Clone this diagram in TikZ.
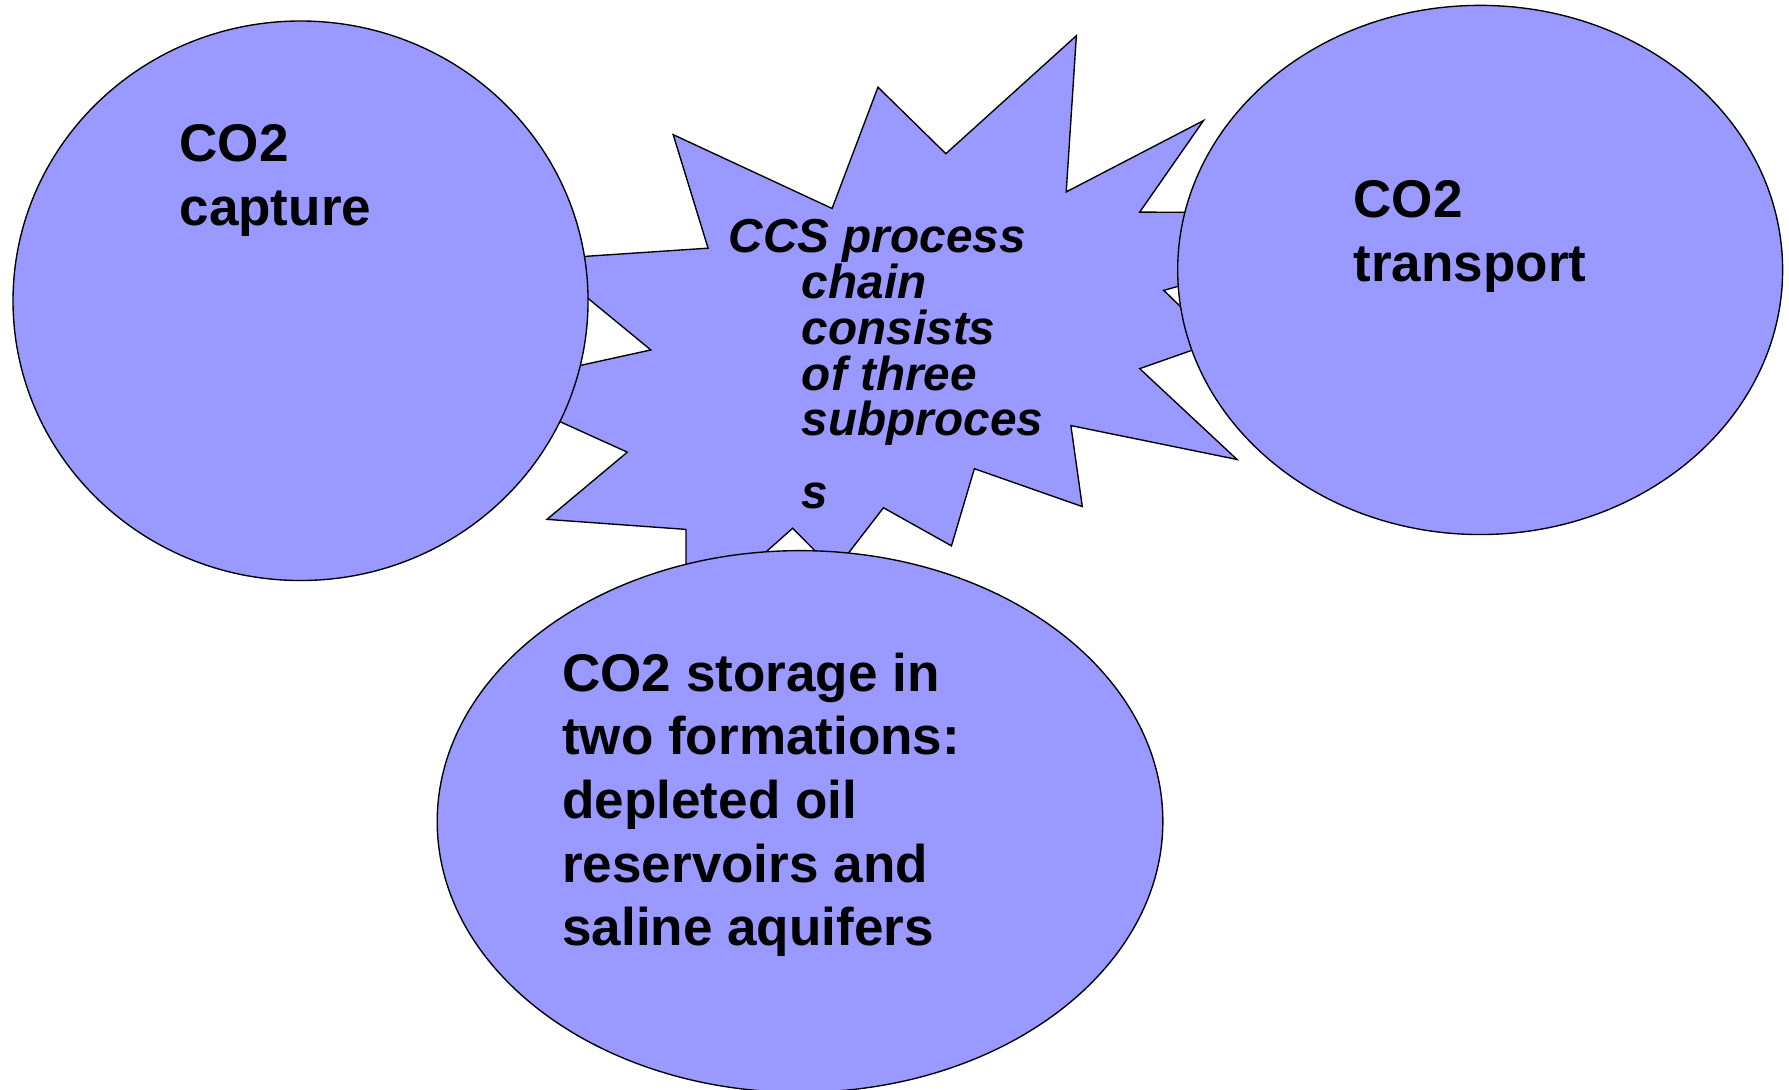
\documentclass[tikz,border=0pt]{standalone}
\usepackage{fontspec}
\setmainfont{Liberation Sans}
\usetikzlibrary{shapes.geometric}
\definecolor{blobfill}{HTML}{9999FF}
\tikzset{
  blob/.style={ellipse, draw=black, line width=0.6pt, fill=blobfill, inner sep=0pt},
  bigtext/.style={anchor=north west, inner sep=0pt, align=left,
    font=\fontsize{23.25pt}{27.9pt}\selectfont\bfseries},
  ccstext/.style={anchor=north west, inner sep=0pt, align=left,
    font=\fontsize{20.9pt}{20.1pt}\selectfont\bfseries\itshape}
}
\begin{document}
\begin{tikzpicture}[x=0.5pt, y=-0.5pt]
\useasboundingbox (0,0) rectangle (1568,955);
\fill[white] (0,0) rectangle (1568,955);
% star burst
\draw[line width=0.6pt, fill=blobfill, line join=miter]
  (590,118) -- (729.3,182.7) -- (769.5,76.4) -- (829,134.7) -- (943.4,31.3)
  -- (934.5,168.2) -- (1054.8,105.7) -- (998.9,185.9) -- (1257,187)
  -- (1020,254.5) -- (1066.3,299.4) -- (998.9,323.1) -- (1084.2,402.7)
  -- (938.6,373) -- (948.6,444) -- (854,410.8) -- (833.9,478.4)
  -- (774.3,445) -- (731.7,500.2) -- (694.7,463) -- (601.3,546)
  -- (601.3,464) -- (479.4,455.2) -- (549.8,396.3) -- (423.3,339)
  -- (570.4,306.7) -- (473.8,227.3) -- (620.6,217.5) -- cycle;
% ellipses
\node[blob, minimum width=252pt, minimum height=245.2pt] (capture) at (263.4,263.6) {};
\node[blob, minimum width=265.1pt, minimum height=231.9pt] (transport) at (1297.3,236.6) {};
\node[blob, minimum width=318pt, minimum height=237.4pt] (storage) at (701.2,720) {};
% texts
\node[bigtext] (capturetext) at (157,108.6) {CO2\\capture};
\node[bigtext] (transporttext) at (1186,157.7) {CO2\\transport};
\node[bigtext] (storagetext) at (492.4,571.6) {CO2 storage in\\two formations:\\depleted oil\\reservoirs and\\saline aquifers};
\node[ccstext] (ccstext) at (638.5,191.7) {CCS process\\\hspace*{32pt}chain\\\hspace*{32pt}consists\\\hspace*{32pt}of three\\\hspace*{32pt}subproces\\[11.8pt]\hspace*{32pt}s};
\end{tikzpicture}
\end{document}
